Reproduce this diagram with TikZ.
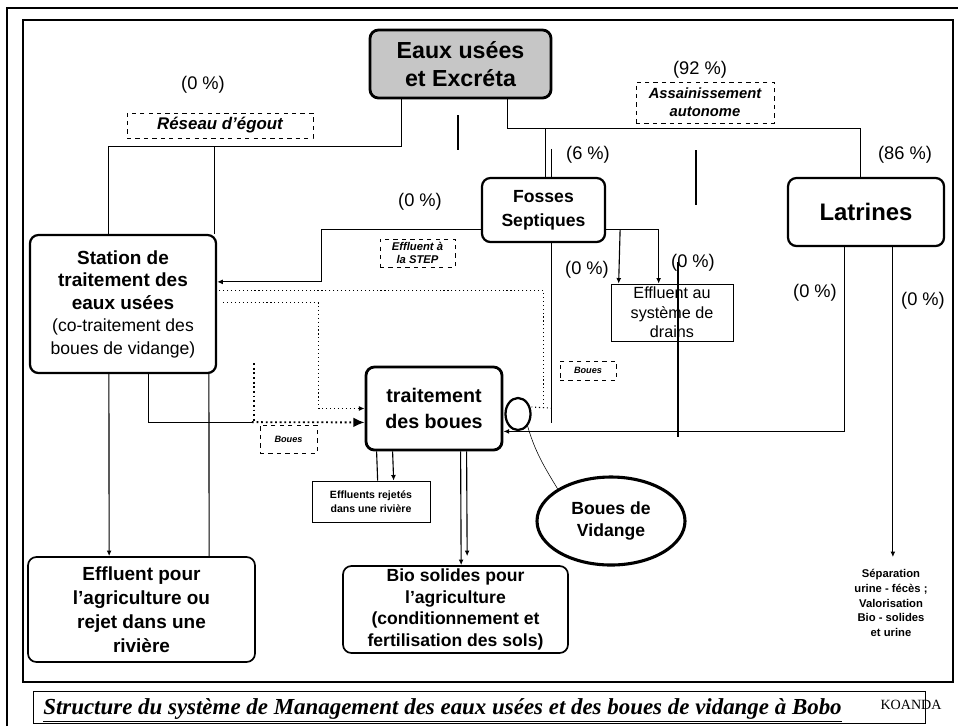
\documentclass[tikz,border=0pt]{standalone}
\usepackage{fontspec}
\setmainfont{Liberation Sans}
\newfontfamily\capfont{Liberation Serif}
\usetikzlibrary{calc,shapes.geometric,arrows.meta}
\newcommand\pxu{*0.025cm}
\tikzset{
  boite/.style={draw, rounded corners=6, line width=1.6pt, align=center, inner sep=0},
  etiq/.style={draw, dashed, line width=0.5pt, align=center, inner sep=0},
  pct/.style={font=\fontsize{13}{15}\selectfont},
  lien/.style={line width=0.8pt},
  fl/.style={-{Latex[length=4pt,width=3.5pt]}},
}
\begin{document}
\begin{tikzpicture}[x=0.025cm,y=-0.025cm]
\useasboundingbox (0,0) rectangle (958,726);
% cadre
\draw[line width=1.4pt] (7,726) -- (7,8) -- (958,8);
\draw[line width=1.1pt] (23,20) rectangle (953,682);

% boites
\node[boite, fill=gray!45, line width=2pt, minimum width=181\pxu, minimum height=68\pxu, font={\fontsize{16.5}{20}\selectfont\bfseries}] (eaux) at (460.5,64) {Eaux usées\\et Excréta};
\node[boite, minimum width=123\pxu, minimum height=64\pxu, font={\fontsize{12.5}{17}\selectfont\bfseries}] (fosses) at (543.5,210) {Fosses\\Septiques};
\node[boite, minimum width=156\pxu, minimum height=68\pxu, font={\fontsize{17}{19}\selectfont\bfseries}] (latrines) at (866,212) {Latrines};
\node[boite, minimum width=186\pxu, minimum height=138\pxu, font={\fontsize{12.5}{16}\selectfont}] (station) at (123,304) {{\bfseries\fontsize{13.5}{16}\selectfont Station de}\\{\bfseries\fontsize{13.5}{16}\selectfont traitement des}\\{\bfseries\fontsize{13.5}{16}\selectfont eaux usées}\\(co-traitement des\\boues de vidange)};
\node[boite, line width=2pt, minimum width=136\pxu, minimum height=83\pxu, font={\fontsize{14}{18}\selectfont\bfseries}] (trait) at (434,408.5) {traitement\\des boues};
\node[draw, line width=0.5pt, align=center, inner sep=0, minimum width=122\pxu, minimum height=57\pxu, font={\fontsize{11.5}{14}\selectfont}] (drains) at (672,312.5) {Effluent au\\système de\\drains};
\node[draw, line width=0.5pt, align=center, inner sep=0, minimum width=118\pxu, minimum height=41\pxu, font={\fontsize{7.5}{10}\selectfont\bfseries}] (rejet) at (371,501.5) {Effluents rejetés\\dans une rivière};
\node[boite, line width=1.2pt, minimum width=225\pxu, minimum height=87\pxu, font={\fontsize{12.5}{15.5}\selectfont\bfseries}] (bio) at (455.5,609.5) {Bio solides pour\\l'agriculture\\(conditionnement et\\fertilisation des sols)};
\node[boite, line width=1.2pt, minimum width=227\pxu, minimum height=105\pxu, font={\fontsize{13.5}{17}\selectfont\bfseries}] (effagri) at (141.5,609.5) {Effluent pour\\l'agriculture ou\\rejet dans une\\rivière};
\node[ellipse, draw, line width=2.2pt, align=center, inner sep=0, minimum width=148\pxu, minimum height=88\pxu, font={\fontsize{12.5}{16}\selectfont\bfseries}] (vidange) at (611,521) {Boues de\\Vidange};
\node[ellipse, draw, line width=1.6pt, inner sep=0, minimum width=25\pxu, minimum height=32\pxu] (circ) at (518,414) {};
\node[align=center, font={\fontsize{8}{10.5}\selectfont\bfseries}] (sep) at (891,603) {Séparation\\urine - fécès ;\\Valorisation\\Bio - solides\\et urine};

% etiquettes
\node[etiq, minimum width=186\pxu, minimum height=25\pxu, font={\fontsize{12}{14}\selectfont\bfseries\itshape}] (reseau) at (220,125.5) {Réseau d'égout};
\node[etiq, minimum width=138\pxu, minimum height=41\pxu, font={\fontsize{10.5}{13}\selectfont\bfseries\itshape}] (assain) at (705,102.5) {Assainissement\\autonome};
\node[etiq, minimum width=75\pxu, minimum height=28\pxu, font={\fontsize{8}{9.5}\selectfont\bfseries\itshape}] (step) at (417.5,253) {Effluent à\\la STEP};
\node[etiq, minimum width=57\pxu, minimum height=28\pxu, font={\fontsize{6.5}{8}\selectfont\bfseries\itshape}] (bouesA) at (288.5,439) {Boues};
\node[etiq, minimum width=56\pxu, minimum height=19\pxu, font={\fontsize{6.5}{8}\selectfont\bfseries\itshape}] (bouesB) at (588,370.5) {Boues};

% pourcentages
\node[pct] (pEgout) at (203,85) {(0 \%)};
\node[pct] (pAuto) at (700,70) {(92 \%)};
\node[pct] (pFosses) at (588,155) {(6 \%)};
\node[pct] (pLat) at (905,155) {(86 \%)};
\node[pct] (pStep) at (420,202) {(0 \%)};
\node[pct] (pBoues) at (587,270) {(0 \%)};
\node[pct] (pDrains) at (693,263) {(0 \%)};
\node[pct] (pLatA) at (815,293) {(0 \%)};
\node[pct] (pLatB) at (923,301) {(0 \%)};

% liens
\draw[lien] ($(eaux.south west)+(33,0)$) |- ($(station.north west)+(80,-87)$) -- ($(station.north west)+(80,0)$);
\draw[lien] ($(station.north east)+(-3,-87)$) -- ($(station.north east)+(-3,0)$);
\draw[lien] ($(eaux.south east)+(-45,0)$) |- ($(latrines.north west)+(74,-48)$) -- ($(latrines.north west)+(74,0)$);
\draw[lien] ($(fosses.north west)+(65,-48)$) -- ($(fosses.north west)+(65,0)$);
\draw[lien] ($(fosses.north west)+(71,-28)$) -- ($(fosses.north west)+(71,0)$);
\draw[lien] (458,115) -- (458,150);
\draw[line width=1.2pt] (696,150) -- (696,205);

\draw[lien,fl] ($(fosses.south west)+(0,-14)$) -| ($(station.north east)+(104,48)$) -- ($(station.north east)+(0,48)$);
\draw[lien] ($(fosses.south west)+(71,0)$) -- ($(fosses.south west)+(71,180)$);
\draw[lien,dotted] ($(fosses.south west)+(71,165)$) -- ($(circ.east)+(0,-7)$);
\draw[lien,dotted] ($(fosses.south west)+(63,165)$) |- ($(station.north east)+(0,57)$);
\draw[lien,dotted,fl] ($(station.north east)+(6,69)$) -| ($(trait.west)+(-46,0)$) -- (trait.west);

\draw[lien] ($(station.south west)+(120,0)$) |- ($(station.south west)+(223,48)$);
\draw[line width=1.3pt,dotted] ($(station.south west)+(225,-11)$) -- ($(station.south west)+(225,48)$);
\draw[line width=1.3pt,dotted,-{Latex[length=8pt,width=7pt]}] ($(station.south west)+(223,48)$) -- ($(trait.south west)+(0,-29)$);

\draw[lien,fl] ($(latrines.south west)+(58,0)$) |- ($(trait.south east)+(0,-20)$);
\draw[lien,fl] ($(latrines.south west)+(106,0)$) -- ($(latrines.south west)+(106,310)$);

\draw[lien,fl] ($(fosses.south east)+(0,-14)$) -| ($(drains.north west)+(48,0)$);
\draw[lien,fl] ($(fosses.south east)+(14,-14)$) -- ($(drains.north west)+(8,0)$);
\draw[line width=1.2pt] ($(drains.north west)+(67,-22)$) -- ($(drains.north west)+(67,153)$);

\draw[lien] ($(trait.south west)+(12,0)$) -- ($(rejet.north west)+(66,0)$);
\draw[lien,fl] ($(trait.south west)+(28,0)$) -- ($(rejet.north west)+(82,0)$);
\draw[lien,fl] ($(trait.south west)+(96,0)$) -- ($(bio.north west)+(119,0)$);
\draw[lien,fl] ($(trait.south west)+(102,0)$) -- ($(bio.north west)+(125,-9)$);

\draw[lien,fl] ($(station.south west)+(80,0)$) -- ($(effagri.north west)+(82,0)$);
\draw[lien] ($(station.south west)+(180,0)$) -- ($(effagri.north west)+(182,0)$);

\draw[thin] (circ.south east) .. controls (535,452) and (545,468) .. (vidange.north west);

% legende
\node[draw, line width=0.6pt, minimum width=892\pxu, minimum height=32\pxu, inner sep=0] (cadreleg) at (479,707) {};
\node[anchor=base west, inner sep=0, font={\capfont\bfseries\itshape\fontsize{16.3}{18}\selectfont}] (legende) at (43,714) {\underline{Structure du système de Management des eaux usées et des boues de vidange à Bobo}};
\node[font={\capfont\fontsize{10}{12}\selectfont}] (auteur) at (911,705) {KOANDA};
\end{tikzpicture}
\end{document}
